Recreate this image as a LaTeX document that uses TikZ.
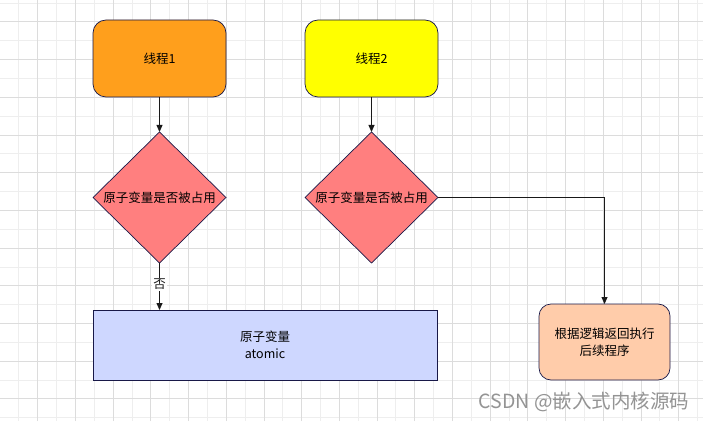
\documentclass[tikz,border=0pt]{standalone}
\usepackage{fontspec}
\setmainfont{Noto Sans CJK SC}
\usepackage{tikz}
\usetikzlibrary{arrows.meta,shapes.geometric,positioning}
\definecolor{gridminor}{RGB}{238,238,238}
\definecolor{gridmajor}{RGB}{220,220,220}
\definecolor{edgenavy}{RGB}{24,24,72}
\definecolor{threadorange}{RGB}{255,159,28}
\definecolor{threadyellow}{RGB}{255,255,0}
\definecolor{checkred}{RGB}{255,127,127}
\definecolor{atomicblue}{RGB}{206,215,255}
\definecolor{resultpeach}{RGB}{255,204,170}
\tikzstyle{arrow} = [line width=0.8pt,-{Triangle[length=7pt,width=6pt]},color=black!90]
\tikzstyle{thread} = [rectangle, rounded corners=13pt, minimum width=133pt, minimum height=77pt, text centered, draw=edgenavy, line width=0.7pt, outer sep=0pt]
\tikzstyle{check} = [diamond, minimum width=133pt, minimum height=131pt, inner sep=0pt, draw=edgenavy, line width=0.7pt, fill=checkred, outer sep=0pt]

\begin{document}
\begin{tikzpicture}[x=1pt, y=1pt, font=\fontsize{12.5}{17}\selectfont]
% Background and grid
\fill[white] (0,0) rectangle (703,421);
\useasboundingbox (0,0) rectangle (703,421);
\foreach \k in {1,...,37} \draw[gridminor, line width=0.8pt] (\k*18.85,0) -- (\k*18.85,421);
\foreach \k in {0,...,22} \draw[gridminor, line width=0.8pt] (0,418-\k*18.85) -- (703,418-\k*18.85);
\foreach \k in {2,4,...,36} \draw[gridmajor, line width=0.8pt] (\k*18.85,0) -- (\k*18.85,421);
\foreach \k in {1,3,...,21} \draw[gridmajor, line width=0.8pt] (0,418-\k*18.85) -- (703,418-\k*18.85);

% Threads
\node (thread1) [thread, fill=threadorange] at (159.5,362.5) {线程1};
\node (thread2) [thread, fill=threadyellow, right=79pt of thread1] {线程2};

% Checks
\node (check1) [check, below=35pt of thread1, label=center:{原子变量是否被占用}] {};
\node (check2) [check, below=35pt of thread2, label=center:{原子变量是否被占用}] {};

% Targets
\node (atomic) [rectangle, minimum width=344pt, minimum height=70pt, align=center, draw=edgenavy, line width=0.7pt, fill=atomicblue, outer sep=0pt] at (265,76) {原子变量\\atomic};
\node (result) [thread, rounded corners=12pt, minimum width=131pt, minimum height=76pt, align=center, fill=resultpeach] at (604.5,79) {根据逻辑返回执行\\后续程序};

% Arrows
\draw[arrow] (thread1) -- (check1);
\draw[arrow] (thread2) -- (check2);
\draw[arrow] (check1.south) -- node[pos=0.45, fill=white, inner sep=1pt] (no) {否} (check1.south |- atomic.north);
\draw[arrow] (check2.east) -| (result.north);

% Watermark
\node (mark) [text=black!42, font=\fontsize{19.5}{22}\selectfont] at (584,19) {CSDN @嵌入式内核源码};
\end{tikzpicture}
\end{document}
